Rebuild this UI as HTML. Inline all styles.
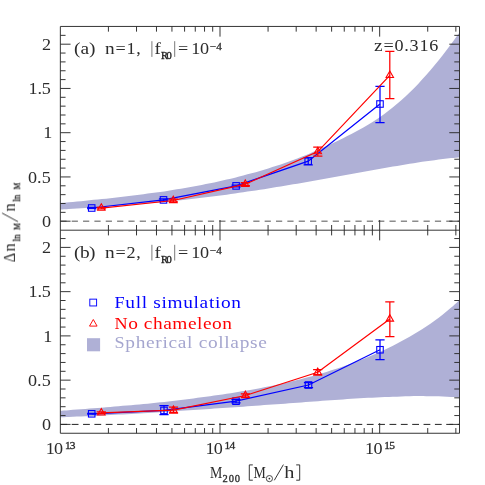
<!DOCTYPE html><html><head><meta charset="utf-8"><style>html,body{margin:0;padding:0;background:#fff}svg{display:block}text{font-family:"Liberation Serif",serif}</style></head><body>
<svg width="485" height="485" viewBox="0 0 485 485">
<rect width="485" height="485" fill="#fff"/>
<path d="M60.35,202.96 C61.74,202.83 65.89,202.46 68.67,202.20 C71.44,201.95 74.21,201.70 76.98,201.44 C79.75,201.18 82.53,200.92 85.30,200.66 C88.07,200.39 90.84,200.12 93.61,199.85 C96.38,199.58 99.16,199.30 101.93,199.01 C104.70,198.73 107.47,198.44 110.24,198.14 C113.02,197.85 115.79,197.55 118.56,197.24 C121.33,196.93 124.10,196.61 126.88,196.29 C129.65,195.96 132.42,195.63 135.19,195.28 C137.96,194.94 140.73,194.59 143.51,194.23 C146.28,193.87 149.05,193.50 151.82,193.12 C154.59,192.74 157.37,192.34 160.14,191.94 C162.91,191.54 165.68,191.12 168.45,190.69 C171.22,190.27 174.00,189.83 176.77,189.37 C179.54,188.92 182.31,188.45 185.08,187.97 C187.86,187.49 190.63,187.00 193.40,186.49 C196.17,185.98 198.94,185.46 201.72,184.92 C204.49,184.38 207.26,183.82 210.03,183.25 C212.80,182.68 215.57,182.09 218.35,181.48 C221.12,180.87 223.89,180.25 226.66,179.61 C229.43,178.97 232.21,178.31 234.98,177.63 C237.75,176.95 240.52,176.25 243.29,175.53 C246.07,174.81 248.84,174.08 251.61,173.32 C254.38,172.56 257.15,171.78 259.93,170.97 C262.70,170.17 265.47,169.34 268.24,168.49 C271.01,167.63 273.78,166.75 276.56,165.84 C279.33,164.93 282.10,164.00 284.87,163.02 C287.64,162.05 290.42,161.05 293.19,160.02 C295.96,158.98 298.73,157.91 301.50,156.81 C304.27,155.70 307.05,154.56 309.82,153.39 C312.59,152.22 315.36,151.02 318.13,149.79 C320.91,148.57 323.68,147.32 326.45,146.06 C329.22,144.79 331.99,143.51 334.77,142.20 C337.54,140.90 340.31,139.59 343.08,138.23 C345.85,136.88 348.62,135.50 351.40,134.07 C354.17,132.63 356.94,131.16 359.71,129.61 C362.48,128.07 365.26,126.47 368.03,124.79 C370.80,123.10 373.57,121.35 376.34,119.50 C379.12,117.66 381.89,115.73 384.66,113.70 C387.43,111.67 390.20,109.55 392.97,107.31 C395.75,105.07 398.52,102.73 401.29,100.27 C404.06,97.81 406.83,95.24 409.61,92.55 C412.38,89.86 415.15,87.06 417.92,84.15 C420.69,81.24 423.47,78.22 426.24,75.09 C429.01,71.96 431.78,68.72 434.55,65.37 C437.32,62.03 440.10,58.57 442.87,55.01 C445.64,51.45 448.41,47.78 451.18,44.02 C453.96,40.25 458.11,34.33 459.50,32.40 L459.50,157.23 C458.11,157.37 453.96,157.80 451.18,158.11 C448.41,158.42 445.64,158.75 442.87,159.09 C440.10,159.44 437.32,159.80 434.55,160.17 C431.78,160.54 429.01,160.92 426.24,161.32 C423.47,161.71 420.69,162.12 417.92,162.54 C415.15,162.96 412.38,163.39 409.61,163.83 C406.83,164.27 404.06,164.71 401.29,165.17 C398.52,165.62 395.75,166.08 392.97,166.55 C390.20,167.02 387.43,167.50 384.66,167.98 C381.89,168.46 379.12,168.94 376.34,169.43 C373.57,169.92 370.80,170.42 368.03,170.91 C365.26,171.41 362.48,171.91 359.71,172.41 C356.94,172.91 354.17,173.41 351.40,173.92 C348.62,174.42 345.85,174.93 343.08,175.43 C340.31,175.94 337.54,176.44 334.77,176.94 C331.99,177.45 329.22,177.95 326.45,178.45 C323.68,178.95 320.91,179.45 318.13,179.95 C315.36,180.44 312.59,180.94 309.82,181.43 C307.05,181.92 304.27,182.41 301.50,182.89 C298.73,183.38 295.96,183.86 293.19,184.33 C290.42,184.81 287.64,185.28 284.87,185.74 C282.10,186.21 279.33,186.67 276.56,187.12 C273.78,187.58 271.01,188.03 268.24,188.47 C265.47,188.91 262.70,189.35 259.93,189.78 C257.15,190.21 254.38,190.64 251.61,191.06 C248.84,191.47 246.07,191.89 243.29,192.29 C240.52,192.69 237.75,193.09 234.98,193.48 C232.21,193.87 229.43,194.25 226.66,194.63 C223.89,195.00 221.12,195.37 218.35,195.73 C215.57,196.09 212.80,196.45 210.03,196.79 C207.26,197.14 204.49,197.48 201.72,197.81 C198.94,198.14 196.17,198.46 193.40,198.78 C190.63,199.09 187.86,199.40 185.08,199.70 C182.31,200.00 179.54,200.29 176.77,200.58 C174.00,200.87 171.22,201.15 168.45,201.42 C165.68,201.69 162.91,201.96 160.14,202.21 C157.37,202.47 154.59,202.72 151.82,202.97 C149.05,203.22 146.28,203.45 143.51,203.69 C140.73,203.92 137.96,204.15 135.19,204.37 C132.42,204.59 129.65,204.81 126.88,205.02 C124.10,205.23 121.33,205.44 118.56,205.64 C115.79,205.84 113.02,206.04 110.24,206.24 C107.47,206.43 104.70,206.62 101.93,206.81 C99.16,206.99 96.38,207.18 93.61,207.36 C90.84,207.54 88.07,207.72 85.30,207.90 C82.53,208.08 79.75,208.25 76.98,208.43 C74.21,208.60 71.44,208.78 68.67,208.95 C65.89,209.13 61.74,209.39 60.35,209.48 Z" fill="#afb0d6" stroke="none"/>
<path d="M60.35,410.89 C61.74,410.78 65.89,410.47 68.67,410.26 C71.44,410.04 74.21,409.83 76.98,409.62 C79.75,409.41 82.53,409.19 85.30,408.97 C88.07,408.76 90.84,408.54 93.61,408.32 C96.38,408.09 99.16,407.87 101.93,407.64 C104.70,407.42 107.47,407.19 110.24,406.95 C113.02,406.72 115.79,406.48 118.56,406.24 C121.33,406.00 124.10,405.76 126.88,405.51 C129.65,405.26 132.42,405.00 135.19,404.74 C137.96,404.49 140.73,404.22 143.51,403.95 C146.28,403.68 149.05,403.41 151.82,403.13 C154.59,402.85 157.37,402.56 160.14,402.27 C162.91,401.98 165.68,401.68 168.45,401.38 C171.22,401.07 174.00,400.76 176.77,400.44 C179.54,400.12 182.31,399.79 185.08,399.46 C187.86,399.12 190.63,398.78 193.40,398.43 C196.17,398.08 198.94,397.72 201.72,397.35 C204.49,396.99 207.26,396.61 210.03,396.22 C212.80,395.84 215.57,395.44 218.35,395.04 C221.12,394.64 223.89,394.22 226.66,393.80 C229.43,393.37 232.21,392.94 234.98,392.49 C237.75,392.05 240.52,391.59 243.29,391.12 C246.07,390.65 248.84,390.17 251.61,389.68 C254.38,389.18 257.15,388.67 259.93,388.15 C262.70,387.62 265.47,387.08 268.24,386.53 C271.01,385.97 273.78,385.40 276.56,384.80 C279.33,384.21 282.10,383.60 284.87,382.97 C287.64,382.35 290.42,381.70 293.19,381.03 C295.96,380.36 298.73,379.67 301.50,378.96 C304.27,378.25 307.05,377.51 309.82,376.76 C312.59,376.00 315.36,375.22 318.13,374.41 C320.91,373.61 323.68,372.78 326.45,371.92 C329.22,371.06 331.99,370.18 334.77,369.27 C337.54,368.36 340.31,367.42 343.08,366.46 C345.85,365.49 348.62,364.50 351.40,363.47 C354.17,362.45 356.94,361.39 359.71,360.31 C362.48,359.22 365.26,358.11 368.03,356.96 C370.80,355.81 373.57,354.64 376.34,353.42 C379.12,352.21 381.89,350.96 384.66,349.67 C387.43,348.37 390.20,347.04 392.97,345.66 C395.75,344.28 398.52,342.85 401.29,341.37 C404.06,339.89 406.83,338.36 409.61,336.77 C412.38,335.18 415.15,333.53 417.92,331.81 C420.69,330.10 423.47,328.32 426.24,326.46 C429.01,324.61 431.78,322.69 434.55,320.68 C437.32,318.67 440.10,316.59 442.87,314.41 C445.64,312.24 448.41,309.98 451.18,307.62 C453.96,305.27 458.11,301.50 459.50,300.27 L459.50,397.64 C458.11,397.53 453.96,397.19 451.18,397.02 C448.41,396.84 445.64,396.69 442.87,396.57 C440.10,396.45 437.32,396.36 434.55,396.29 C431.78,396.22 429.01,396.17 426.24,396.14 C423.47,396.12 420.69,396.11 417.92,396.12 C415.15,396.14 412.38,396.17 409.61,396.21 C406.83,396.26 404.06,396.32 401.29,396.40 C398.52,396.48 395.75,396.57 392.97,396.67 C390.20,396.77 387.43,396.88 384.66,397.01 C381.89,397.13 379.12,397.26 376.34,397.41 C373.57,397.55 370.80,397.70 368.03,397.86 C365.26,398.01 362.48,398.18 359.71,398.35 C356.94,398.52 354.17,398.69 351.40,398.87 C348.62,399.05 345.85,399.24 343.08,399.43 C340.31,399.62 337.54,399.81 334.77,400.00 C331.99,400.20 329.22,400.39 326.45,400.59 C323.68,400.79 320.91,400.99 318.13,401.19 C315.36,401.40 312.59,401.60 309.82,401.80 C307.05,402.01 304.27,402.21 301.50,402.42 C298.73,402.62 295.96,402.83 293.19,403.03 C290.42,403.23 287.64,403.44 284.87,403.64 C282.10,403.85 279.33,404.05 276.56,404.25 C273.78,404.46 271.01,404.66 268.24,404.86 C265.47,405.06 262.70,405.26 259.93,405.46 C257.15,405.66 254.38,405.86 251.61,406.05 C248.84,406.25 246.07,406.45 243.29,406.64 C240.52,406.83 237.75,407.03 234.98,407.22 C232.21,407.41 229.43,407.60 226.66,407.79 C223.89,407.98 221.12,408.17 218.35,408.36 C215.57,408.55 212.80,408.74 210.03,408.92 C207.26,409.11 204.49,409.29 201.72,409.48 C198.94,409.66 196.17,409.84 193.40,410.02 C190.63,410.20 187.86,410.39 185.08,410.56 C182.31,410.74 179.54,410.92 176.77,411.10 C174.00,411.28 171.22,411.45 168.45,411.63 C165.68,411.80 162.91,411.98 160.14,412.15 C157.37,412.32 154.59,412.49 151.82,412.66 C149.05,412.83 146.28,413.00 143.51,413.16 C140.73,413.33 137.96,413.50 135.19,413.66 C132.42,413.82 129.65,413.98 126.88,414.14 C124.10,414.30 121.33,414.45 118.56,414.60 C115.79,414.76 113.02,414.91 110.24,415.05 C107.47,415.20 104.70,415.34 101.93,415.48 C99.16,415.62 96.38,415.75 93.61,415.88 C90.84,416.01 88.07,416.13 85.30,416.25 C82.53,416.37 79.75,416.48 76.98,416.59 C74.21,416.69 71.44,416.79 68.67,416.88 C65.89,416.97 61.74,417.09 60.35,417.13 Z" fill="#afb0d6" stroke="none"/>
<line x1="60.35" y1="221.20" x2="459.50" y2="221.20" stroke="#8c8c8c" stroke-width="1.6" stroke-dasharray="6.2 5.15"/>
<line x1="60.35" y1="424.40" x2="459.50" y2="424.40" stroke="#222" stroke-width="1.0" stroke-dasharray="6.8 4.55"/>
<path d="M91.70,208.00 L163.50,199.90 L236.10,185.90 L308.20,161.20 L380.00,104.00" fill="none" stroke="#0000ff" stroke-width="1.25"/>
<path d="M91.70,207.40 V208.60 M87.10,207.40 H96.30 M87.10,208.60 H96.30" fill="none" stroke="#0000ff" stroke-width="1.25"/>
<rect x="88.45" y="204.75" width="6.5" height="6.5" fill="none" stroke="#0000ff" stroke-width="1.1"/>
<path d="M163.50,198.90 V200.90 M158.90,198.90 H168.10 M158.90,200.90 H168.10" fill="none" stroke="#0000ff" stroke-width="1.25"/>
<rect x="160.25" y="196.65" width="6.5" height="6.5" fill="none" stroke="#0000ff" stroke-width="1.1"/>
<path d="M236.10,185.00 V186.80 M231.50,185.00 H240.70 M231.50,186.80 H240.70" fill="none" stroke="#0000ff" stroke-width="1.25"/>
<rect x="232.85" y="182.65" width="6.5" height="6.5" fill="none" stroke="#0000ff" stroke-width="1.1"/>
<path d="M308.20,157.60 V164.80 M303.60,157.60 H312.80 M303.60,164.80 H312.80" fill="none" stroke="#0000ff" stroke-width="1.25"/>
<rect x="304.95" y="157.95" width="6.5" height="6.5" fill="none" stroke="#0000ff" stroke-width="1.1"/>
<path d="M380.00,86.30 V122.50 M375.40,86.30 H384.60 M375.40,122.50 H384.60" fill="none" stroke="#0000ff" stroke-width="1.25"/>
<rect x="376.75" y="100.75" width="6.5" height="6.5" fill="none" stroke="#0000ff" stroke-width="1.1"/>
<path d="M101.30,208.10 L173.30,200.50 L245.30,184.20 L317.80,151.60 L389.80,75.40" fill="none" stroke="#ff0000" stroke-width="1.25"/>
<path d="M101.30,207.30 V208.90 M96.70,207.30 H105.90 M96.70,208.90 H105.90" fill="none" stroke="#ff0000" stroke-width="1.25"/>
<path d="M101.30,203.80 L105.02,210.25 L97.58,210.25 Z" fill="none" stroke="#ff0000" stroke-width="1.1"/>
<path d="M173.30,199.20 V201.80 M168.70,199.20 H177.90 M168.70,201.80 H177.90" fill="none" stroke="#ff0000" stroke-width="1.25"/>
<path d="M173.30,196.20 L177.02,202.65 L169.58,202.65 Z" fill="none" stroke="#ff0000" stroke-width="1.1"/>
<path d="M245.30,182.70 V185.70 M240.70,182.70 H249.90 M240.70,185.70 H249.90" fill="none" stroke="#ff0000" stroke-width="1.25"/>
<path d="M245.30,179.90 L249.02,186.35 L241.58,186.35 Z" fill="none" stroke="#ff0000" stroke-width="1.1"/>
<path d="M317.80,147.00 V156.20 M313.20,147.00 H322.40 M313.20,156.20 H322.40" fill="none" stroke="#ff0000" stroke-width="1.25"/>
<path d="M317.80,147.30 L321.52,153.75 L314.08,153.75 Z" fill="none" stroke="#ff0000" stroke-width="1.1"/>
<path d="M389.80,51.40 V98.70 M385.20,51.40 H394.40 M385.20,98.70 H394.40" fill="none" stroke="#ff0000" stroke-width="1.25"/>
<path d="M389.80,71.10 L393.52,77.55 L386.08,77.55 Z" fill="none" stroke="#ff0000" stroke-width="1.1"/>
<path d="M91.70,413.80 L164.00,410.40 L236.00,401.20 L308.50,385.00 L380.00,349.75" fill="none" stroke="#0000ff" stroke-width="1.25"/>
<path d="M91.70,413.40 V414.20 M87.10,413.40 H96.30 M87.10,414.20 H96.30" fill="none" stroke="#0000ff" stroke-width="1.25"/>
<rect x="88.45" y="410.55" width="6.5" height="6.5" fill="none" stroke="#0000ff" stroke-width="1.1"/>
<path d="M164.00,405.70 V414.70 M159.40,405.70 H168.60 M159.40,414.70 H168.60" fill="none" stroke="#0000ff" stroke-width="1.25"/>
<rect x="160.75" y="407.15" width="6.5" height="6.5" fill="none" stroke="#0000ff" stroke-width="1.1"/>
<path d="M236.00,399.60 V402.80 M231.40,399.60 H240.60 M231.40,402.80 H240.60" fill="none" stroke="#0000ff" stroke-width="1.25"/>
<rect x="232.75" y="397.95" width="6.5" height="6.5" fill="none" stroke="#0000ff" stroke-width="1.1"/>
<path d="M308.50,382.50 V387.50 M303.90,382.50 H313.10 M303.90,387.50 H313.10" fill="none" stroke="#0000ff" stroke-width="1.25"/>
<rect x="305.25" y="381.75" width="6.5" height="6.5" fill="none" stroke="#0000ff" stroke-width="1.1"/>
<path d="M380.00,339.85 V359.65 M375.40,339.85 H384.60 M375.40,359.65 H384.60" fill="none" stroke="#0000ff" stroke-width="1.25"/>
<rect x="376.75" y="346.50" width="6.5" height="6.5" fill="none" stroke="#0000ff" stroke-width="1.1"/>
<path d="M101.30,412.80 L173.50,410.20 L245.40,395.50 L317.70,372.30 L389.85,319.00" fill="none" stroke="#ff0000" stroke-width="1.25"/>
<path d="M101.30,411.90 V413.70 M96.70,411.90 H105.90 M96.70,413.70 H105.90" fill="none" stroke="#ff0000" stroke-width="1.25"/>
<path d="M101.30,408.50 L105.02,414.95 L97.58,414.95 Z" fill="none" stroke="#ff0000" stroke-width="1.1"/>
<path d="M173.50,407.20 V413.20 M168.90,407.20 H178.10 M168.90,413.20 H178.10" fill="none" stroke="#ff0000" stroke-width="1.25"/>
<path d="M173.50,405.90 L177.22,412.35 L169.78,412.35 Z" fill="none" stroke="#ff0000" stroke-width="1.1"/>
<path d="M245.40,393.80 V397.20 M240.80,393.80 H250.00 M240.80,397.20 H250.00" fill="none" stroke="#ff0000" stroke-width="1.25"/>
<path d="M245.40,391.20 L249.12,397.65 L241.68,397.65 Z" fill="none" stroke="#ff0000" stroke-width="1.1"/>
<path d="M317.70,369.60 V375.00 M313.10,369.60 H322.30 M313.10,375.00 H322.30" fill="none" stroke="#ff0000" stroke-width="1.25"/>
<path d="M317.70,368.00 L321.42,374.45 L313.98,374.45 Z" fill="none" stroke="#ff0000" stroke-width="1.1"/>
<path d="M389.85,301.95 V336.60 M385.25,301.95 H394.45 M385.25,336.60 H394.45" fill="none" stroke="#ff0000" stroke-width="1.25"/>
<path d="M389.85,314.70 L393.57,321.15 L386.13,321.15 Z" fill="none" stroke="#ff0000" stroke-width="1.1"/>
<path d="M60.35,26.45 H459.50 V433.25 H60.35 Z M60.35,230.20 H459.50 M108.41,26.45 v5.20 M108.41,225.00 v10.40 M108.41,433.25 v-5.20 M136.53,26.45 v5.20 M136.53,225.00 v10.40 M136.53,433.25 v-5.20 M156.47,26.45 v5.20 M156.47,225.00 v10.40 M156.47,433.25 v-5.20 M171.95,26.45 v5.20 M171.95,225.00 v10.40 M171.95,433.25 v-5.20 M184.59,26.45 v5.20 M184.59,225.00 v10.40 M184.59,433.25 v-5.20 M195.28,26.45 v5.20 M195.28,225.00 v10.40 M195.28,433.25 v-5.20 M204.54,26.45 v5.20 M204.54,225.00 v10.40 M204.54,433.25 v-5.20 M212.70,26.45 v5.20 M212.70,225.00 v10.40 M212.70,433.25 v-5.20 M220.01,26.45 v10.20 M220.01,220.00 v20.40 M220.01,433.25 v-10.20 M268.07,26.45 v5.20 M268.07,225.00 v10.40 M268.07,433.25 v-5.20 M296.19,26.45 v5.20 M296.19,225.00 v10.40 M296.19,433.25 v-5.20 M316.13,26.45 v5.20 M316.13,225.00 v10.40 M316.13,433.25 v-5.20 M331.61,26.45 v5.20 M331.61,225.00 v10.40 M331.61,433.25 v-5.20 M344.25,26.45 v5.20 M344.25,225.00 v10.40 M344.25,433.25 v-5.20 M354.94,26.45 v5.20 M354.94,225.00 v10.40 M354.94,433.25 v-5.20 M364.20,26.45 v5.20 M364.20,225.00 v10.40 M364.20,433.25 v-5.20 M372.36,26.45 v5.20 M372.36,225.00 v10.40 M372.36,433.25 v-5.20 M379.67,26.45 v10.20 M379.67,220.00 v20.40 M379.67,433.25 v-10.20 M427.73,26.45 v5.20 M427.73,225.00 v10.40 M427.73,433.25 v-5.20 M455.85,26.45 v5.20 M455.85,225.00 v10.40 M455.85,433.25 v-5.20 M60.35,221.20 h10.20 M459.50,221.20 h-10.20 M60.35,212.35 h5.20 M459.50,212.35 h-5.20 M60.35,203.50 h5.20 M459.50,203.50 h-5.20 M60.35,194.65 h5.20 M459.50,194.65 h-5.20 M60.35,185.80 h5.20 M459.50,185.80 h-5.20 M60.35,176.95 h10.20 M459.50,176.95 h-10.20 M60.35,168.10 h5.20 M459.50,168.10 h-5.20 M60.35,159.25 h5.20 M459.50,159.25 h-5.20 M60.35,150.40 h5.20 M459.50,150.40 h-5.20 M60.35,141.55 h5.20 M459.50,141.55 h-5.20 M60.35,132.70 h10.20 M459.50,132.70 h-10.20 M60.35,123.85 h5.20 M459.50,123.85 h-5.20 M60.35,115.00 h5.20 M459.50,115.00 h-5.20 M60.35,106.15 h5.20 M459.50,106.15 h-5.20 M60.35,97.30 h5.20 M459.50,97.30 h-5.20 M60.35,88.45 h10.20 M459.50,88.45 h-10.20 M60.35,79.60 h5.20 M459.50,79.60 h-5.20 M60.35,70.75 h5.20 M459.50,70.75 h-5.20 M60.35,61.90 h5.20 M459.50,61.90 h-5.20 M60.35,53.05 h5.20 M459.50,53.05 h-5.20 M60.35,44.20 h10.20 M459.50,44.20 h-10.20 M60.35,35.35 h5.20 M459.50,35.35 h-5.20 M60.35,424.40 h10.20 M459.50,424.40 h-10.20 M60.35,415.55 h5.20 M459.50,415.55 h-5.20 M60.35,406.70 h5.20 M459.50,406.70 h-5.20 M60.35,397.85 h5.20 M459.50,397.85 h-5.20 M60.35,389.00 h5.20 M459.50,389.00 h-5.20 M60.35,380.15 h10.20 M459.50,380.15 h-10.20 M60.35,371.30 h5.20 M459.50,371.30 h-5.20 M60.35,362.45 h5.20 M459.50,362.45 h-5.20 M60.35,353.60 h5.20 M459.50,353.60 h-5.20 M60.35,344.75 h5.20 M459.50,344.75 h-5.20 M60.35,335.90 h10.20 M459.50,335.90 h-10.20 M60.35,327.05 h5.20 M459.50,327.05 h-5.20 M60.35,318.20 h5.20 M459.50,318.20 h-5.20 M60.35,309.35 h5.20 M459.50,309.35 h-5.20 M60.35,300.50 h5.20 M459.50,300.50 h-5.20 M60.35,291.65 h10.20 M459.50,291.65 h-10.20 M60.35,282.80 h5.20 M459.50,282.80 h-5.20 M60.35,273.95 h5.20 M459.50,273.95 h-5.20 M60.35,265.10 h5.20 M459.50,265.10 h-5.20 M60.35,256.25 h5.20 M459.50,256.25 h-5.20 M60.35,247.40 h10.20 M459.50,247.40 h-10.20 M60.35,238.55 h5.20 M459.50,238.55 h-5.20" fill="none" stroke="#2b2b2b" stroke-width="0.95"/>
<g opacity="0.995">
<text transform="translate(42.10,49.80) scale(1.100,1)" font-size="16.50" fill="#2b2b2b">2</text>
<text transform="translate(28.50,94.05) scale(1.100,1)" font-size="16.50" fill="#2b2b2b" textLength="20.36" lengthAdjust="spacing">1.5</text>
<text transform="translate(43.30,138.30) scale(1.100,1)" font-size="16.50" fill="#2b2b2b">1</text>
<text transform="translate(27.90,182.55) scale(1.100,1)" font-size="16.50" fill="#2b2b2b" textLength="20.91" lengthAdjust="spacing">0.5</text>
<text transform="translate(42.10,226.80) scale(1.100,1)" font-size="16.50" fill="#2b2b2b">0</text>
<text transform="translate(42.10,253.00) scale(1.100,1)" font-size="16.50" fill="#2b2b2b">2</text>
<text transform="translate(28.50,297.25) scale(1.100,1)" font-size="16.50" fill="#2b2b2b" textLength="20.36" lengthAdjust="spacing">1.5</text>
<text transform="translate(43.30,341.50) scale(1.100,1)" font-size="16.50" fill="#2b2b2b">1</text>
<text transform="translate(27.90,385.75) scale(1.100,1)" font-size="16.50" fill="#2b2b2b" textLength="20.91" lengthAdjust="spacing">0.5</text>
<text transform="translate(42.10,430.00) scale(1.100,1)" font-size="16.50" fill="#2b2b2b">0</text>
<text transform="translate(45.75,453.50) scale(1.100,1)" font-size="16.50" fill="#2b2b2b" textLength="15.82" lengthAdjust="spacing">10</text>
<text transform="translate(64.95,449.20) scale(1.100,1)" font-size="10.40" fill="#2b2b2b" textLength="9.64" lengthAdjust="spacing" stroke="#2b2b2b" stroke-width="0.3">13</text>
<text transform="translate(205.41,453.50) scale(1.100,1)" font-size="16.50" fill="#2b2b2b" textLength="15.82" lengthAdjust="spacing">10</text>
<text transform="translate(224.61,449.20) scale(1.100,1)" font-size="10.40" fill="#2b2b2b" textLength="9.64" lengthAdjust="spacing" stroke="#2b2b2b" stroke-width="0.3">14</text>
<text transform="translate(365.07,453.50) scale(1.100,1)" font-size="16.50" fill="#2b2b2b" textLength="15.82" lengthAdjust="spacing">10</text>
<text transform="translate(384.27,449.20) scale(1.100,1)" font-size="10.40" fill="#2b2b2b" textLength="9.64" lengthAdjust="spacing" stroke="#2b2b2b" stroke-width="0.3">15</text>
<text transform="translate(74.10,54.30) scale(1.100,1)" font-size="16.50" fill="#2b2b2b" textLength="19.45" lengthAdjust="spacing"><tspan font-size="17.6">(a)</tspan></text>
<text transform="translate(105.10,54.30) scale(1.100,1)" font-size="16.50" fill="#2b2b2b" textLength="32.55" lengthAdjust="spacing"><tspan font-size="17.6">n</tspan>=1,</text>
<path d="M151.9,41.20 V56.90 M174.7,41.20 V56.90" stroke="#6a6a6a" stroke-width="0.9" fill="none"/>
<text transform="translate(154.60,54.30) scale(1.100,1)" font-size="17.20" fill="#2b2b2b">f</text>
<text transform="translate(161.00,59.30) scale(1.100,1)" font-size="9.60" fill="#111" textLength="9.91" lengthAdjust="spacing" stroke="#2b2b2b" stroke-width="0.3">R0</text>
<text transform="translate(178.00,54.30) scale(1.100,1)" font-size="16.50" fill="#2b2b2b" textLength="8.73" lengthAdjust="spacing">=</text>
<text transform="translate(191.20,54.30) scale(1.100,1)" font-size="16.50" fill="#2b2b2b" textLength="16.18" lengthAdjust="spacing">10</text>
<text transform="translate(210.00,49.90) scale(1.100,1)" font-size="10.20" fill="#2b2b2b" textLength="10.82" lengthAdjust="spacing" stroke="#2b2b2b" stroke-width="0.3">−4</text>
<text transform="translate(74.10,257.90) scale(1.100,1)" font-size="16.50" fill="#2b2b2b" textLength="19.45" lengthAdjust="spacing"><tspan font-size="17.6">(b)</tspan></text>
<text transform="translate(105.10,257.90) scale(1.100,1)" font-size="16.50" fill="#2b2b2b" textLength="32.55" lengthAdjust="spacing"><tspan font-size="17.6">n</tspan>=2,</text>
<path d="M151.9,244.80 V260.50 M174.7,244.80 V260.50" stroke="#6a6a6a" stroke-width="0.9" fill="none"/>
<text transform="translate(154.60,257.90) scale(1.100,1)" font-size="17.20" fill="#2b2b2b">f</text>
<text transform="translate(161.00,262.90) scale(1.100,1)" font-size="9.60" fill="#111" textLength="9.91" lengthAdjust="spacing" stroke="#2b2b2b" stroke-width="0.3">R0</text>
<text transform="translate(178.00,257.90) scale(1.100,1)" font-size="16.50" fill="#2b2b2b" textLength="8.73" lengthAdjust="spacing">=</text>
<text transform="translate(191.20,257.90) scale(1.100,1)" font-size="16.50" fill="#2b2b2b" textLength="16.18" lengthAdjust="spacing">10</text>
<text transform="translate(210.00,253.50) scale(1.100,1)" font-size="10.20" fill="#2b2b2b" textLength="10.82" lengthAdjust="spacing" stroke="#2b2b2b" stroke-width="0.3">−4</text>
<text transform="translate(374.00,50.90) scale(1.100,1)" font-size="16.50" fill="#2b2b2b" textLength="58.55" lengthAdjust="spacing"><tspan font-size="17.6">z</tspan>=0.316</text>
<rect x="89.8" y="299.15" width="6.8" height="6.8" fill="none" stroke="#0000ff" stroke-width="0.95"/>
<path d="M93.3,319.5 L97.1,326.1 L89.5,326.1 Z" fill="none" stroke="#ff0000" stroke-width="0.95"/>
<rect x="87.0" y="338.2" width="13.1" height="13.1" fill="#afb0d6"/>
<text transform="translate(114.60,308.00) scale(1.100,1)" font-size="16.50" fill="#0000ff" textLength="114.91" lengthAdjust="spacing">F<tspan font-size="17.6">ull simulation</tspan></text>
<text transform="translate(114.60,329.00) scale(1.100,1)" font-size="16.50" fill="#ff0000" textLength="106.73" lengthAdjust="spacing">N<tspan font-size="17.6">o chameleon</tspan></text>
<text transform="translate(114.60,348.10) scale(1.100,1)" font-size="16.50" fill="#a5a6cf" textLength="138.36" lengthAdjust="spacing">S<tspan font-size="17.6">pherical collapse</tspan></text>
<text transform="translate(209.90,477.90) scale(0.840,1)" font-size="16.50" fill="#2b2b2b">M</text>
<text transform="translate(222.60,482.40) scale(1.050,1)" font-size="10.00" fill="#2b2b2b" textLength="16.57" lengthAdjust="spacing" stroke="#2b2b2b" stroke-width="0.3">200</text>
<text transform="translate(253.40,477.90) scale(0.840,1)" font-size="16.50" fill="#2b2b2b">M</text>
<path d="M252.8,464.9 H249.3 V480.2 H252.8 M296.2,464.9 H299.7 V480.2 H296.2 M274.3,480.3 L283.4,464.6" fill="none" stroke="#2b2b2b" stroke-width="0.95"/>
<circle cx="269.4" cy="478.6" r="3.1" fill="none" stroke="#2b2b2b" stroke-width="0.85"/><circle cx="269.4" cy="478.6" r="0.9" fill="#2b2b2b"/>
<text transform="translate(284.20,477.90) scale(1.180,1)" font-size="17.20" fill="#2b2b2b">h</text>
<g transform="translate(14.9,262.4) rotate(-90)">
<text transform="translate(0.00,0.00) scale(0.900,1)" font-size="16.50" fill="#2b2b2b">Δ</text>
<text transform="translate(10.80,0.00) scale(0.980,1)" font-size="17.20" fill="#2b2b2b">n</text>
<text transform="translate(21.00,4.70) scale(0.920,1)" font-size="9.60" fill="#111" stroke="#2b2b2b" stroke-width="0.3">ln</text>
<text transform="translate(32.60,4.70) scale(0.820,1)" font-size="9.20" fill="#111" stroke="#2b2b2b" stroke-width="0.3">M</text>
<path d="M40.7,3.1 L49.3,-12.8" stroke="#2b2b2b" stroke-width="0.95" fill="none"/>
<text transform="translate(50.80,0.00) scale(0.980,1)" font-size="17.20" fill="#2b2b2b">n</text>
<text transform="translate(60.70,4.70) scale(0.920,1)" font-size="9.60" fill="#111" stroke="#2b2b2b" stroke-width="0.3">ln</text>
<text transform="translate(73.10,4.70) scale(0.820,1)" font-size="9.20" fill="#111" stroke="#2b2b2b" stroke-width="0.3">M</text>
</g>
</g>
</svg></body></html>
